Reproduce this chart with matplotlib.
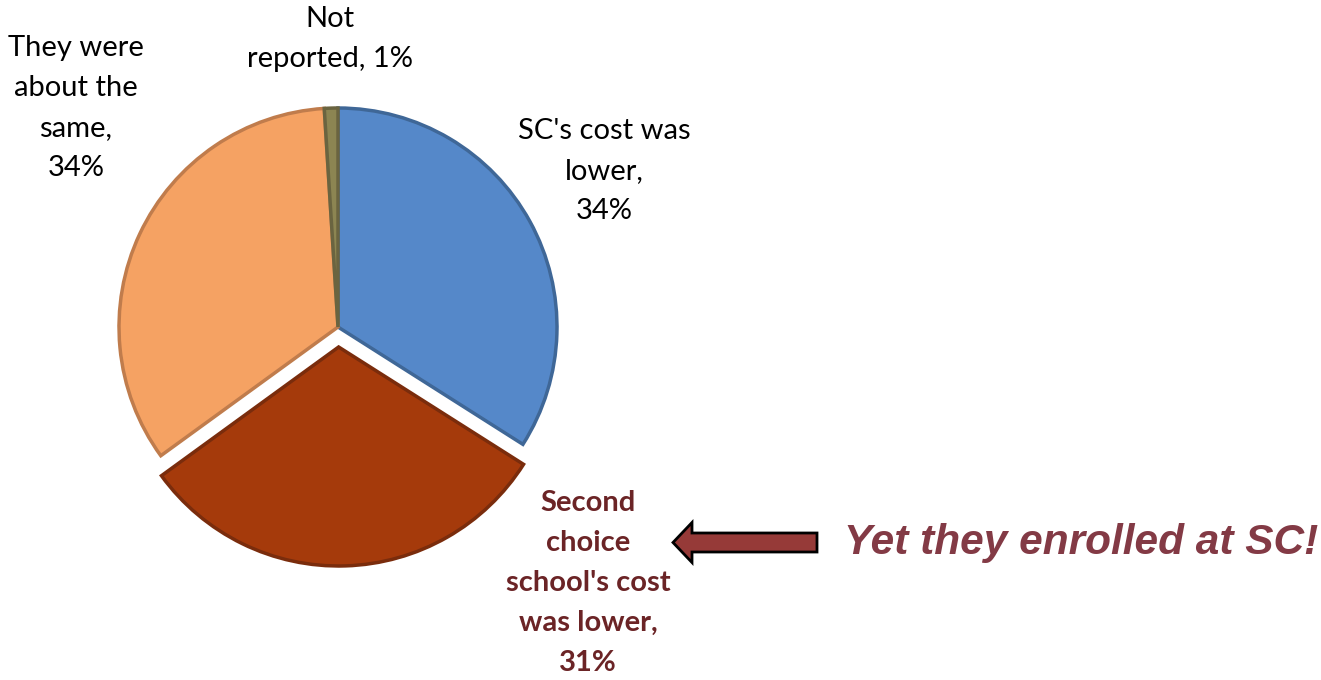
import matplotlib.pyplot as plt
from matplotlib.patches import FancyArrow

# survey shares, clockwise from 12 o'clock
labels = ["SC's cost was\nlower,\n34%",
          "Second\nchoice\nschool's cost\nwas lower,\n31%",
          "They were\nabout the\nsame,\n34%",
          "Not\nreported, 1%"]
shares = [34, 31, 34, 1]
colors = ["#5588c9", "#a53a0b", "#f5a263", "#8c8552"]
edges = ["#3f6797", "#7a2c0c", "#c07c4c", "#6a6440"]
explode = [0, 20, 0, 0]  # offset in pixels, pulls the 31% slice out

W, H = 1321, 680
fig = plt.figure(figsize=(W / 100, H / 100), dpi=100)
ax = fig.add_axes([0, 0, 1, 1])

cx, cy, r = 338, H - 327, 219
wedges, _ = ax.pie(shares, colors=colors, explode=explode, startangle=90,
                   counterclock=False, center=(cx, cy), radius=r,
                   wedgeprops=dict(linewidth=2.5))
for w, ec in zip(wedges, edges):
    w.set_edgecolor(ec)
ax.set_aspect("auto")
ax.set_xlim(0, W)
ax.set_ylim(0, H)
ax.axis("off")

font = "Lato"
ls = 1.66
ax.text(604, H - 171, labels[0], ha="center", va="center", fontsize=21,
        family=font, linespacing=ls, color="black")
ax.text(76, H - 108, labels[2], ha="center", va="center", fontsize=21,
        family=font, linespacing=ls, color="black")
ax.text(330, H - 39, labels[3], ha="center", va="center", fontsize=21,
        family=font, linespacing=ls, color="black")
ax.text(588, H - 583, labels[1], ha="center", va="center", fontsize=21,
        family=font, fontweight="bold", linespacing=ls, color="#6b2426")

# pointer arrow and callout
ax.add_patch(FancyArrow(817, H - 542.5, -144, 0, width=19, head_width=40,
                        head_length=19, length_includes_head=True,
                        facecolor="#963a38", edgecolor="black", linewidth=2))
ax.text(1318, H - 543, "Yet they enrolled at SC!", ha="right", va="center",
        fontsize=30.5, family="Liberation Sans", fontweight="bold",
        fontstyle="italic", color="#833a45")

fig.savefig("out.png", dpi=100)
